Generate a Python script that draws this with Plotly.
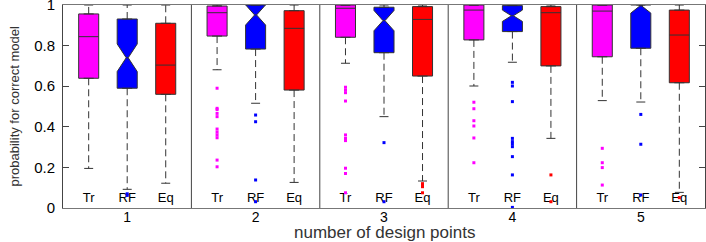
import plotly.graph_objects as go

groups = ["1", "2", "3", "4", "5"]
methods = ["Tr", "RF", "Eq"]
colors = {"Tr": "#ff00ff", "RF": "#0000ff", "Eq": "#ff0000"}

q1 = {
    "Tr": [0.639, 0.847, 0.841, 0.828, 0.745],
    "RF": [0.590, 0.783, 0.765, 0.869, 0.787],
    "Eq": [0.560, 0.581, 0.650, 0.700, 0.617],
}
median = {
    "Tr": [0.844, 0.962, 0.984, 0.975, 0.970],
    "RF": [0.740, 0.951, 0.923, 0.947, 1.000],
    "Eq": [0.704, 0.885, 0.929, 0.962, 0.852],
}
q3 = {
    "Tr": [0.956, 0.995, 1.000, 1.000, 1.000],
    "RF": [0.931, 1.000, 0.989, 0.997, 1.000],
    "Eq": [0.910, 0.972, 0.992, 0.992, 0.975],
}
lower_whisker = {
    "Tr": [0.195, 0.681, 0.713, 0.601, 0.529],
    "RF": [0.092, 0.516, 0.450, 0.718, 0.522],
    "Eq": [0.122, 0.126, 0.133, 0.343, 0.077],
}
upper_whisker = {
    "Tr": [1.0, 1.0, 1.0, 1.0, 1.0],
    "RF": [1.0, 1.0, 1.0, 1.0, 1.0],
    "Eq": [1.0, 1.0, 1.0, 1.0, 1.0],
}
notch_rf = [0.068, 0.05, 0.05, 0.028, 0.04]
outliers = {
    "Tr": [
        [],
        [0.59, 0.491, 0.485, 0.466, 0.45, 0.389, 0.374, 0.36, 0.346, 0.236, 0.203],
        [0.595, 0.581, 0.568, 0.527, 0.36, 0.343, 0.332, 0.196, 0.17, 0.075],
        [0.521, 0.489, 0.43, 0.404, 0.345, 0.223],
        [0.294, 0.223, 0.199, 0.113],
    ],
    "RF": [
        [0.07, 0.062],
        [0.458, 0.425, 0.138, 0.031],
        [0.322, 0.031],
        [0.619, 0.601, 0.524, 0.343, 0.327, 0.315, 0.302, 0.253, 0.163, 0.003],
        [0.461, 0.314, 0.064],
    ],
    "Eq": [
        [],
        [],
        [0.12, 0.112, 0.105, 0.075],
        [0.163, 0.031],
        [0.051],
    ],
}

SPACING = 0.3
BOXW = 0.156
CAPW = 0.07
LABEL_Y = 0.045


def xpos(g, k):
    return g + 0.5 + (k - 1) * SPACING


fig = go.Figure()
font = "Liberation Sans, Arial, sans-serif"

# boxes
for k, m in enumerate(methods):
    xs = [xpos(g, k) for g in range(len(groups))]
    kw = {}
    if m == "RF":
        kw = dict(notched=True, notchspan=notch_rf, notchwidth=0.45)
    fig.add_trace(go.Box(
        x=xs, q1=q1[m], median=median[m], q3=q3[m],
        lowerfence=q1[m], upperfence=q3[m],
        width=BOXW, fillcolor=colors[m],
        line=dict(color="#333333", width=1),
        boxpoints=False, hoverinfo="skip", showlegend=False, **kw))

# whiskers (dashed) and caps
wx, wy, cx, cy = [], [], [], []
for k, m in enumerate(methods):
    for g in range(len(groups)):
        x = xpos(g, k)
        wx += [x, x, None, x, x, None]
        wy += [q1[m][g], lower_whisker[m][g], None, q3[m][g], upper_whisker[m][g], None]
        for v in (lower_whisker[m][g], upper_whisker[m][g]):
            cx += [x - CAPW / 2, x + CAPW / 2, None]
            cy += [v, v, None]
fig.add_trace(go.Scatter(x=wx, y=wy, mode="lines", line=dict(color="#333333", width=1, dash="7px,4px"),
                         hoverinfo="skip", showlegend=False))
fig.add_trace(go.Scatter(x=cx, y=cy, mode="lines", line=dict(color="#333333", width=1),
                         hoverinfo="skip", showlegend=False))

# method labels
lx, ly, lt = [], [], []
for k, m in enumerate(methods):
    for g in range(len(groups)):
        lx.append(xpos(g, k)); ly.append(LABEL_Y); lt.append(m)
fig.add_trace(go.Scatter(x=lx, y=ly, mode="text", text=lt,
                         textfont=dict(family=font, size=13, color="#000000"),
                         hoverinfo="skip", showlegend=False))

# outliers
for k, m in enumerate(methods):
    ox, oy = [], []
    for g in range(len(groups)):
        for v in outliers[m][g]:
            ox.append(xpos(g, k)); oy.append(v)
    fig.add_trace(go.Scatter(x=ox, y=oy, mode="markers",
                             marker=dict(color=colors[m], size=3, symbol="square", line=dict(width=0)),
                             hoverinfo="skip", showlegend=False))

# panel separators
for g in range(1, len(groups)):
    fig.add_shape(type="line", xref="x", yref="paper", x0=g, x1=g, y0=0, y1=1,
                  line=dict(color="#444444", width=1))

fig.add_annotation(text="number of design points", xref="paper", yref="paper", x=0.5, y=0,
                   xanchor="center", yanchor="middle", yshift=-24, showarrow=False,
                   font=dict(size=17, family=font, color="#333333"))
fig.add_annotation(text="probability for correct model", xref="paper", yref="paper", x=0, y=0.5,
                   xanchor="center", yanchor="middle", xshift=-49, textangle=-90, showarrow=False,
                   font=dict(size=13, family=font, color="#333333"))

fig.update_layout(
    width=706, height=242,
    margin=dict(l=63, r=1, t=5, b=34, autoexpand=False),
    plot_bgcolor="white", paper_bgcolor="white",
    font=dict(family=font, color="#000000"),
    xaxis=dict(range=[0, 5], tickvals=[g + 0.5 for g in range(len(groups))], ticktext=groups,
               ticks="", showgrid=False, zeroline=False, showline=True, mirror=True,
               linecolor="#777777", linewidth=1, automargin=False, ticklabelstandoff=-4,
               tickfont=dict(size=14, family=font, color="#000000")),
    yaxis=dict(range=[0, 1], tickvals=[0, 0.2, 0.4, 0.6, 0.8, 1], ticktext=["0", "0.2", "0.4", "0.6", "0.8", "1"],
               ticks="inside", ticklen=6, tickcolor="#444444", showgrid=False, zeroline=False,
               showline=True, mirror="ticks", linecolor="#444444", linewidth=1, automargin=False,
               ticklabelstandoff=4, ticklabeloverflow="allow",
               tickfont=dict(size=15, family=font, color="#000000")),
)

fig.write_html("out.html", config={"displayModeBar": False},
               post_script="document.body.style.margin='0';document.body.style.overflow='hidden';")
